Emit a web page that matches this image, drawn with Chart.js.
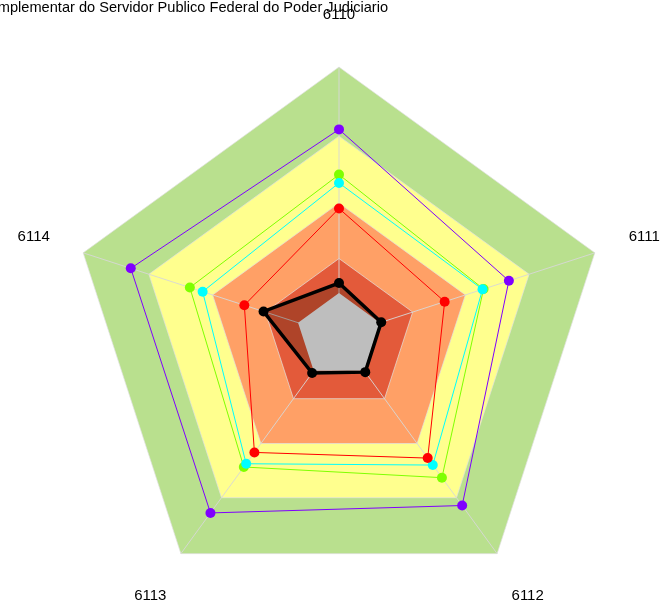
<!DOCTYPE html>
<html>
<head>
<meta charset="utf-8">
<script src="https://cdn.jsdelivr.net/npm/chart.js@4.4.1/dist/chart.umd.min.js"></script>
<style>
    html, body { margin: 0; padding: 0; background: #ffffff; }
    #wrap { width: 664px; height: 608px; position: relative; }
</style>
</head>
<body>
<div id="wrap"><canvas id="radarChart" width="664" height="608"></canvas></div>
<script>
// Axis categories
const categories = ['6110', '6111', '6112', '6113', '6114'];

// Reference bands (outer to inner)
const bandGreen = [100, 100, 100, 100, 100];
const bandYellow = [74.3, 74.3, 74.3, 74.3, 74.3];
const bandSalmon = [49.4, 49.4, 49.4, 49.4, 49.4];
const bandRed = [28.8, 28.8, 28.8, 28.8, 28.8];
const bandGrey = [16, 16, 16, 16, 16];

// Series values
const seriesPurple = [76.8, 66.4, 77.9, 81.3, 81.4];
const seriesGreen = [60.0, 56.5, 65.1, 60.2, 58.3];
const seriesCyan = [56.9, 56.1, 59.3, 58.7, 53.3];
const seriesRed = [47.4, 41.3, 56.1, 53.5, 37.0];
const seriesBlack = [19.7, 16.5, 16.6, 17.0, 29.5];

const titleText = 'Previdência Complementar do Servidor Publico Federal do Poder Judiciario';

document.addEventListener('DOMContentLoaded', function() {
    const ctx = document.getElementById('radarChart').getContext('2d');

    function band(data, color, order) {
        return {
            data: data,
            backgroundColor: color,
            borderColor: 'rgba(225,225,225,0.7)',
            borderWidth: 1,
            pointRadius: 0,
            fill: true,
            order: order
        };
    }

    function series(data, color, width, order) {
        return {
            data: data,
            borderColor: color,
            borderWidth: width,
            pointRadius: 5,
            pointBorderWidth: 0,
            pointBackgroundColor: color,
            fill: false,
            order: order
        };
    }

    // Spokes drawn right after the dark red band so the grey core covers them
    const spokes = {
        id: 'spokes',
        afterDatasetDraw(chart, args) {
            if (args.index !== 3) return;
            const scale = chart.scales.r;
            const c = chart.ctx;
            c.save();
            c.strokeStyle = 'rgba(215,215,215,0.9)';
            c.lineWidth = 1;
            for (let i = 0; i < categories.length; i++) {
                const p = scale.getPointPosition(i, scale.drawingArea);
                c.beginPath();
                c.moveTo(scale.xCenter, scale.yCenter);
                c.lineTo(p.x, p.y);
                c.stroke();
            }
            c.restore();
        }
    };

    // Axis labels and title text
    const labels = {
        id: 'labels',
        afterDraw(chart) {
            const scale = chart.scales.r;
            const c = chart.ctx;
            c.save();
            c.fillStyle = '#000000';
            c.font = '15px "Liberation Sans", Arial, sans-serif';
            c.textAlign = 'center';
            c.textBaseline = 'middle';
            categories.forEach((label, i) => {
                const p = scale.getPointPosition(i, scale.drawingArea + 52);
                c.fillText(label, p.x, p.y);
            });
            c.font = '14.6px "Liberation Sans", Arial, sans-serif';
            c.textAlign = 'right';
            c.textBaseline = 'alphabetic';
            c.fillText(titleText, 388, 11.5);
            c.restore();
        }
    };

    new Chart(ctx, {
        type: 'radar',
        data: {
            labels: categories,
            datasets: [
                band(bandGreen, '#B9E08E', 11),
                band(bandYellow, '#FFFF8E', 10),
                band(bandSalmon, '#FFA066', 9),
                band(bandRed, '#E35A3A', 8),
                {
                    data: seriesBlack,
                    backgroundColor: 'rgba(40,10,0,0.28)',
                    borderWidth: 0,
                    pointRadius: 0,
                    fill: true,
                    order: 7
                },
                {
                    data: bandGrey,
                    backgroundColor: '#BEBEBE',
                    borderWidth: 0,
                    pointRadius: 0,
                    fill: true,
                    order: 6
                },
                series(seriesPurple, '#7F00FF', 1, 5),
                series(seriesGreen, '#7FFF00', 1, 4),
                series(seriesCyan, '#00FFFF', 1, 3),
                series(seriesRed, '#FF0000', 1, 2),
                series(seriesBlack, '#000000', 3.5, 1)
            ]
        },
        options: {
            responsive: false,
            animation: false,
            layout: { padding: { top: 67, bottom: 3, left: 70, right: 56 } },
            elements: { line: { tension: 0 } },
            scales: {
                r: {
                    min: 0,
                    max: 100,
                    ticks: { display: false },
                    grid: { display: false },
                    angleLines: { display: false },
                    pointLabels: { display: false }
                }
            },
            plugins: {
                legend: { display: false },
                tooltip: { enabled: false }
            }
        },
        plugins: [spokes, labels]
    });
});
</script>
</body>
</html>
